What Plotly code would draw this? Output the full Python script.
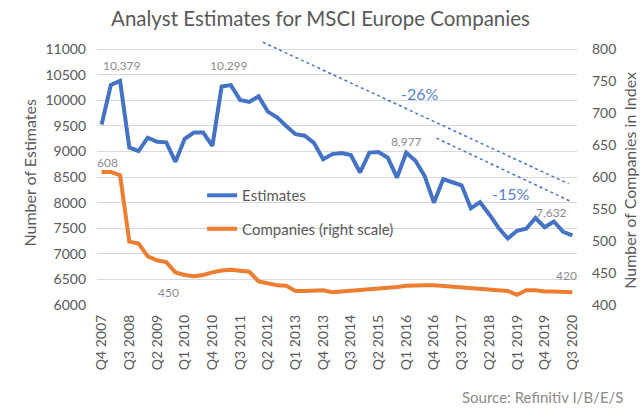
import plotly.graph_objects as go

quarters = [
    "Q4 2007",
    "Q1 2008", "Q2 2008", "Q3 2008", "Q4 2008",
    "Q1 2009", "Q2 2009", "Q3 2009", "Q4 2009",
    "Q1 2010", "Q2 2010", "Q3 2010", "Q4 2010",
    "Q1 2011", "Q2 2011", "Q3 2011", "Q4 2011",
    "Q1 2012", "Q2 2012", "Q3 2012", "Q4 2012",
    "Q1 2013", "Q2 2013", "Q3 2013", "Q4 2013",
    "Q1 2014", "Q2 2014", "Q3 2014", "Q4 2014",
    "Q1 2015", "Q2 2015", "Q3 2015", "Q4 2015",
    "Q1 2016", "Q2 2016", "Q3 2016", "Q4 2016",
    "Q1 2017", "Q2 2017", "Q3 2017", "Q4 2017",
    "Q1 2018", "Q2 2018", "Q3 2018", "Q4 2018",
    "Q1 2019", "Q2 2019", "Q3 2019", "Q4 2019",
    "Q1 2020", "Q2 2020", "Q3 2020",
]

estimates = [
    9530, 10300, 10379, 9080, 9010, 9270, 9190, 9180, 8800, 9250,
    9370, 9370, 9110, 10270, 10299, 10010, 9970, 10080, 9780, 9670,
    9500, 9340, 9310, 9170, 8850, 8950, 8970, 8930, 8590, 8980,
    8990, 8880, 8490, 8977, 8820, 8520, 8000, 8460, 8400, 8340,
    7890, 8010, 7770, 7510, 7300, 7450, 7490, 7700, 7520, 7632,
    7430, 7360,
]

companies = [
    608, 608, 603, 499, 496, 476, 470, 467, 451, 447,
    445, 447, 451, 454, 455, 453, 452, 437, 434, 431,
    430, 422, 422, 423, 423, 420, 421, 422, 423, 425,
    426, 426, 428, 430, 431, 431, 431, 430, 428, 427,
    426, 426, 425, 424, 422, 416, 423, 423, 421, 421,
    421, 420,
]

tick_labels = [
    "Q4 2007", "Q3 2008", "Q2 2009", "Q1 2010", "Q4 2010", "Q3 2011",
    "Q2 2012", "Q1 2013", "Q4 2013", "Q3 2014", "Q2 2015", "Q1 2016",
    "Q4 2016", "Q3 2017", "Q2 2018", "Q1 2019", "Q4 2019", "Q3 2020",
]

# labelled points: (quarter, value, axis, text, xshift, yshift)
point_labels = [
    ("Q2 2008", 10379, "y", "10,379", 2, 16),
    ("Q2 2011", 10299, "y", "10,299", -2, 20),
    ("Q1 2016", 8977, "y", "8,977", 0, 11),
    ("Q4 2019", 7632, "y", "7,632", 7, 9),
    ("Q4 2007", 608, "y2", "608", 6, 10),
    ("Q4 2009", 450, "y2", "450", -7, -19),
    ("Q3 2020", 420, "y2", "420", -6, 17),
]

BLUE = "#4472C4"
ORANGE = "#ED7D31"
GREY = "#595959"
LGREY = "#8C8C8C"
PCT = "#5682D4"
FONT = "Lato"

fig = go.Figure()
fig.add_trace(go.Scatter(
    x=quarters, y=estimates, name="Estimates", mode="lines",
    line=dict(color=BLUE, width=4), legendgroup="a",
))
fig.add_trace(go.Scatter(
    x=quarters, y=companies, name="Companies (right scale)", mode="lines",
    line=dict(color=ORANGE, width=4), yaxis="y2", legendgroup="b",
))

# dotted trend lines (decorations)
fig.add_shape(type="line", xref="x", yref="y", x0=17.47, y0=11137, x1=50.6, y1=8368,
              line=dict(color=BLUE, width=1.5, dash="dot"))
fig.add_shape(type="line", xref="x", yref="y", x0=36.27, y0=9262, x1=50.7, y1=8035,
              line=dict(color=BLUE, width=1.5, dash="dot"))

annotations = []
for q, v, ax, t, xs, ys in point_labels:
    annotations.append(dict(
        x=q, y=v, xref="x", yref=ax, text=t, showarrow=False,
        xshift=xs, yshift=ys, font=dict(family=FONT, size=12, color=LGREY),
    ))

annotations += [
    dict(x=34.5, y=10140, xref="x", yref="y", text="-26%", showarrow=False,
         font=dict(family=FONT, size=16, color=PCT)),
    dict(x=44.4, y=8180, xref="x", yref="y", text="-15%", showarrow=False,
         font=dict(family=FONT, size=16, color=PCT)),
    dict(x=-0.140, y=0.497, xref="paper", yref="paper", text="Number of Estimates",
         xanchor="center", yanchor="middle",
         textangle=-90, showarrow=False, font=dict(family=FONT, size=16, color=GREY)),
    dict(x=1.11, y=0.47, xref="paper", yref="paper", text="Number of Companies in Index",
         xanchor="center", yanchor="middle",
         textangle=-90, showarrow=False, font=dict(family=FONT, size=16, color=GREY)),
    dict(x=1.1, y=-0.345, xref="paper", yref="paper", text="Source: Refinitiv I/B/E/S",
         xanchor="right", yanchor="middle", showarrow=False,
         font=dict(family=FONT, size=15, color=LGREY)),
]

fig.update_layout(
    width=641, height=409, autosize=False,
    margin=dict(l=97, r=64, t=39, b=104, autoexpand=False),
    paper_bgcolor="white", plot_bgcolor="white",
    font=dict(family=FONT, color=GREY),
    title=dict(text="Analyst Estimates for MSCI Europe Companies",
               x=0.5, xanchor="center", y=0.953, yanchor="middle",
               font=dict(family=FONT, size=20.5, color=GREY)),
    xaxis=dict(
        type="category", range=[-0.5, 51.5],
        tickmode="array", tickvals=tick_labels, ticktext=tick_labels,
        tickangle=-90, tickfont=dict(family=FONT, size=14, color=GREY),
        showgrid=False, showline=False, ticks="", zeroline=False,
        ticklabelstandoff=6, automargin=False,
    ),
    yaxis=dict(
        range=[6000, 11200], tickmode="linear", tick0=6000, dtick=500,
        tickformat="d",
        gridcolor="#D9D9D9", gridwidth=1, zeroline=False, showline=False,
        ticks="", tickfont=dict(family=FONT, size=14, color=GREY),
        ticklabelstandoff=10, automargin=False,
    ),
    yaxis2=dict(
        overlaying="y", side="right", range=[400, 816], tickmode="linear",
        tick0=400, dtick=50, tickformat="d", showgrid=False, zeroline=False,
        showline=False, ticks="", tickfont=dict(family=FONT, size=14, color=GREY),
        ticklabelstandoff=14, automargin=False,
    ),
    legend=dict(
        x=0.219, xanchor="left", y=0.4735, yanchor="top",
        bgcolor="rgba(0,0,0,0)", font=dict(family=FONT, size=15, color=GREY),
        tracegroupgap=11,
    ),
    annotations=annotations,
)

# remove the browser's default 8px page margin so the figure fills the window exactly
fig.write_html(
    "out.html",
    config={"displayModeBar": False},
    post_script="document.body.style.margin='0';",
)
